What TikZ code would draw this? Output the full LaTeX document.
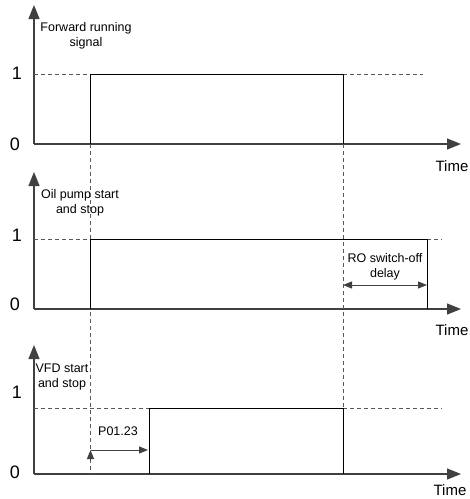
\documentclass[tikz,border=0pt]{standalone}
\usepackage{fontspec}
\setmainfont{Liberation Sans}
\usetikzlibrary{arrows.meta, positioning}
\tikzset{
	axisarr/.style={draw=black!75, line width=1.2pt, -{Triangle[length=14pt, width=11pt]}},
	sigline/.style={draw=black, line width=0.9pt},
	guideline/.style={draw=black!65, dash pattern=on 4pt off 3pt, line width=0.7pt},
	siglabel/.style={font=\fontsize{12.5}{15}\selectfont, align=center, inner sep=0pt},
	levellabel/.style={font=\fontsize{18}{18}\selectfont, inner sep=0pt},
	timelabel/.style={font=\fontsize{15}{15}\selectfont, inner sep=0pt},
	delayarr/.style={draw=black!75, line width=0.9pt, {Triangle[length=9pt, width=7pt]}-{Triangle[length=9pt, width=7pt]}},
	onearr/.style={draw=black!75, line width=0.9pt, -{Triangle[length=9pt, width=7pt]}},
}

\begin{document}
\begin{tikzpicture}[x=1pt, y=-1pt]
	\useasboundingbox (0,0) rectangle (470,499);
	% axes of the three panels
	\foreach \oy/\ty/\n in {144/5/1, 309/172/2, 474/345/3} {
		\coordinate (o\n) at (34,\oy);
		\draw[axisarr] (o\n) -- (34,\ty);
		\draw[axisarr] (o\n) -- (461,\oy);
	}
	\node[timelabel] (t1) at (452,166) {Time};
	\node[timelabel] (t2) at (452,330) {Time};
	\node[timelabel] (t3) at (450,490) {Time};
	% level labels
	\node[levellabel] (one1) at (17,73) {1};
	\node[levellabel] (zero1) at (15,144) {0};
	\node[levellabel] (one2) at (17,235) {1};
	\node[levellabel] (zero2) at (15,304) {0};
	\node[levellabel] (one3) at (17,392) {1};
	\node[levellabel] (zero3) at (15,472) {0};
	% signal names
	\node[siglabel] (fwd) at (86,35.5) {Forward running\\signal};
	\node[siglabel] (oil) at (80,202.5) {Oil pump start\\and stop};
	\node[siglabel] (vfd) at (62,376.5) {VFD start\\and stop};
	% guide lines
	\draw[guideline] (34,74) -- (90.5,74);
	\draw[guideline] (343,74) -- (423,74);
	\draw[guideline] (34,239) -- (90.5,239);
	\draw[guideline] (427,239) -- (442,239);
	\draw[guideline] (34,408) -- (149,408);
	\draw[guideline] (343,408) -- (442,408);
	\draw[guideline] (90.5,74) -- (90.5,474);
	\draw[guideline] (343,74) -- (343,474);
	% signals
	\draw[sigline] (90.5,144) -- (90.5,74) -- (343,74) -- (343,144);
	\draw[sigline] (90.5,309) -- (90.5,239) -- (427,239) -- (427,309);
	\draw[sigline] (149,474) -- (149,408) -- (343,408) -- (343,474);
	% delays
	\coordinate (ro0) at (343,285);
	\coordinate (ro1) at (427,285);
	\draw[delayarr] (ro0) -- (ro1);
	\node[siglabel] (ro) at (385,267) {RO switch-off\\delay};
	\coordinate (p0) at (90.5,450);
	\coordinate (p1) at (148,450);
	\draw[onearr] (p0) -- (p1);
	\draw[onearr] (90.5,461) -- (p0);
	\node[siglabel] (pdelay) at (118,431) {P01.23};
\end{tikzpicture}
\end{document}
